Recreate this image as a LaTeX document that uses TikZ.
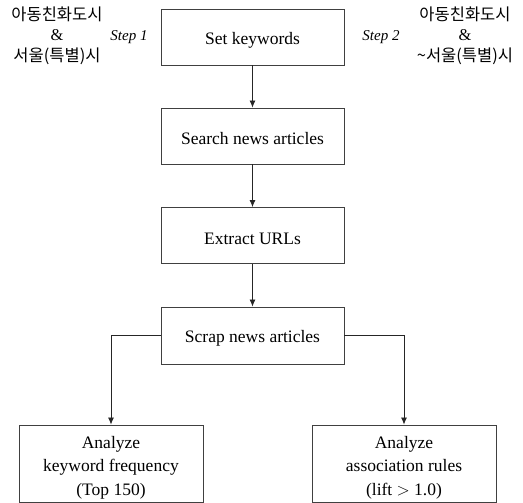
\documentclass[tikz,border=0pt]{standalone}
\usepackage{fontspec}
\setmainfont{Liberation Serif}
\newfontfamily\kr{Noto Sans CJK KR}
\usetikzlibrary{arrows.meta}
\begin{document}
\begin{tikzpicture}[x=1pt,y=-1pt,
  box/.style={draw=black!75, line width=0.9pt, minimum width=183pt, inner sep=0pt},
  boxtext/.style={align=center, inner sep=0pt, font=\fontsize{17.5}{23.5}\selectfont},
  flow/.style={draw=black!85, line width=0.8pt, -{Latex[length=7pt,width=6pt]}},
  kor/.style={align=center, font=\fontsize{16.5}{20.5}\selectfont\kr, inner sep=0pt},
  steplbl/.style={font=\fontsize{15}{18}\selectfont\itshape, inner sep=0pt}]
\useasboundingbox (0,0) rectangle (523,503);
\node[box, minimum height=56pt, label={[boxtext, yshift=-3pt]center:Set keywords}] (set) at (252.5,37) {};
\node[box, minimum height=56pt, label={[boxtext, yshift=-3pt]center:Search news articles}] (search) at (252.5,136) {};
\node[box, minimum height=56pt, label={[boxtext, yshift=-3pt]center:Extract URLs}] (extract) at (252.5,235.5) {};
\node[box, minimum height=57pt, label={[boxtext, yshift=-3pt]center:Scrap news articles}] (scrap) at (252.5,335.5) {};
\node[box, minimum width=184pt, minimum height=77pt, label={[boxtext, yshift=-4pt]center:Analyze\\keyword frequency\\(Top 150)}] (freq) at (111,463.5) {};
\node[box, minimum width=184pt, minimum height=77pt, label={[boxtext, yshift=-4pt]center:Analyze\\association rules\\(lift $>$ 1.0)}] (assoc) at (404,463.5) {};
\node[kor] (k1) at (57,35.5) {아동친화도시\\{\rmfamily\&}\\서울(특별)시};
\node[kor] (k2) at (465,35.5) {아동친화도시\\{\rmfamily\&}\\\textasciitilde 서울(특별)시};
\node[steplbl] (s1) at (129,37) {Step 1};
\node[steplbl] (s2) at (381,37) {Step 2};
\draw[flow] (set) -- (search);
\draw[flow] (search) -- (extract);
\draw[flow] (extract) -- (scrap);
\draw[flow] (scrap.west) -| (freq.north);
\draw[flow] (scrap.east) -| (assoc.north);
\end{tikzpicture}
\end{document}
